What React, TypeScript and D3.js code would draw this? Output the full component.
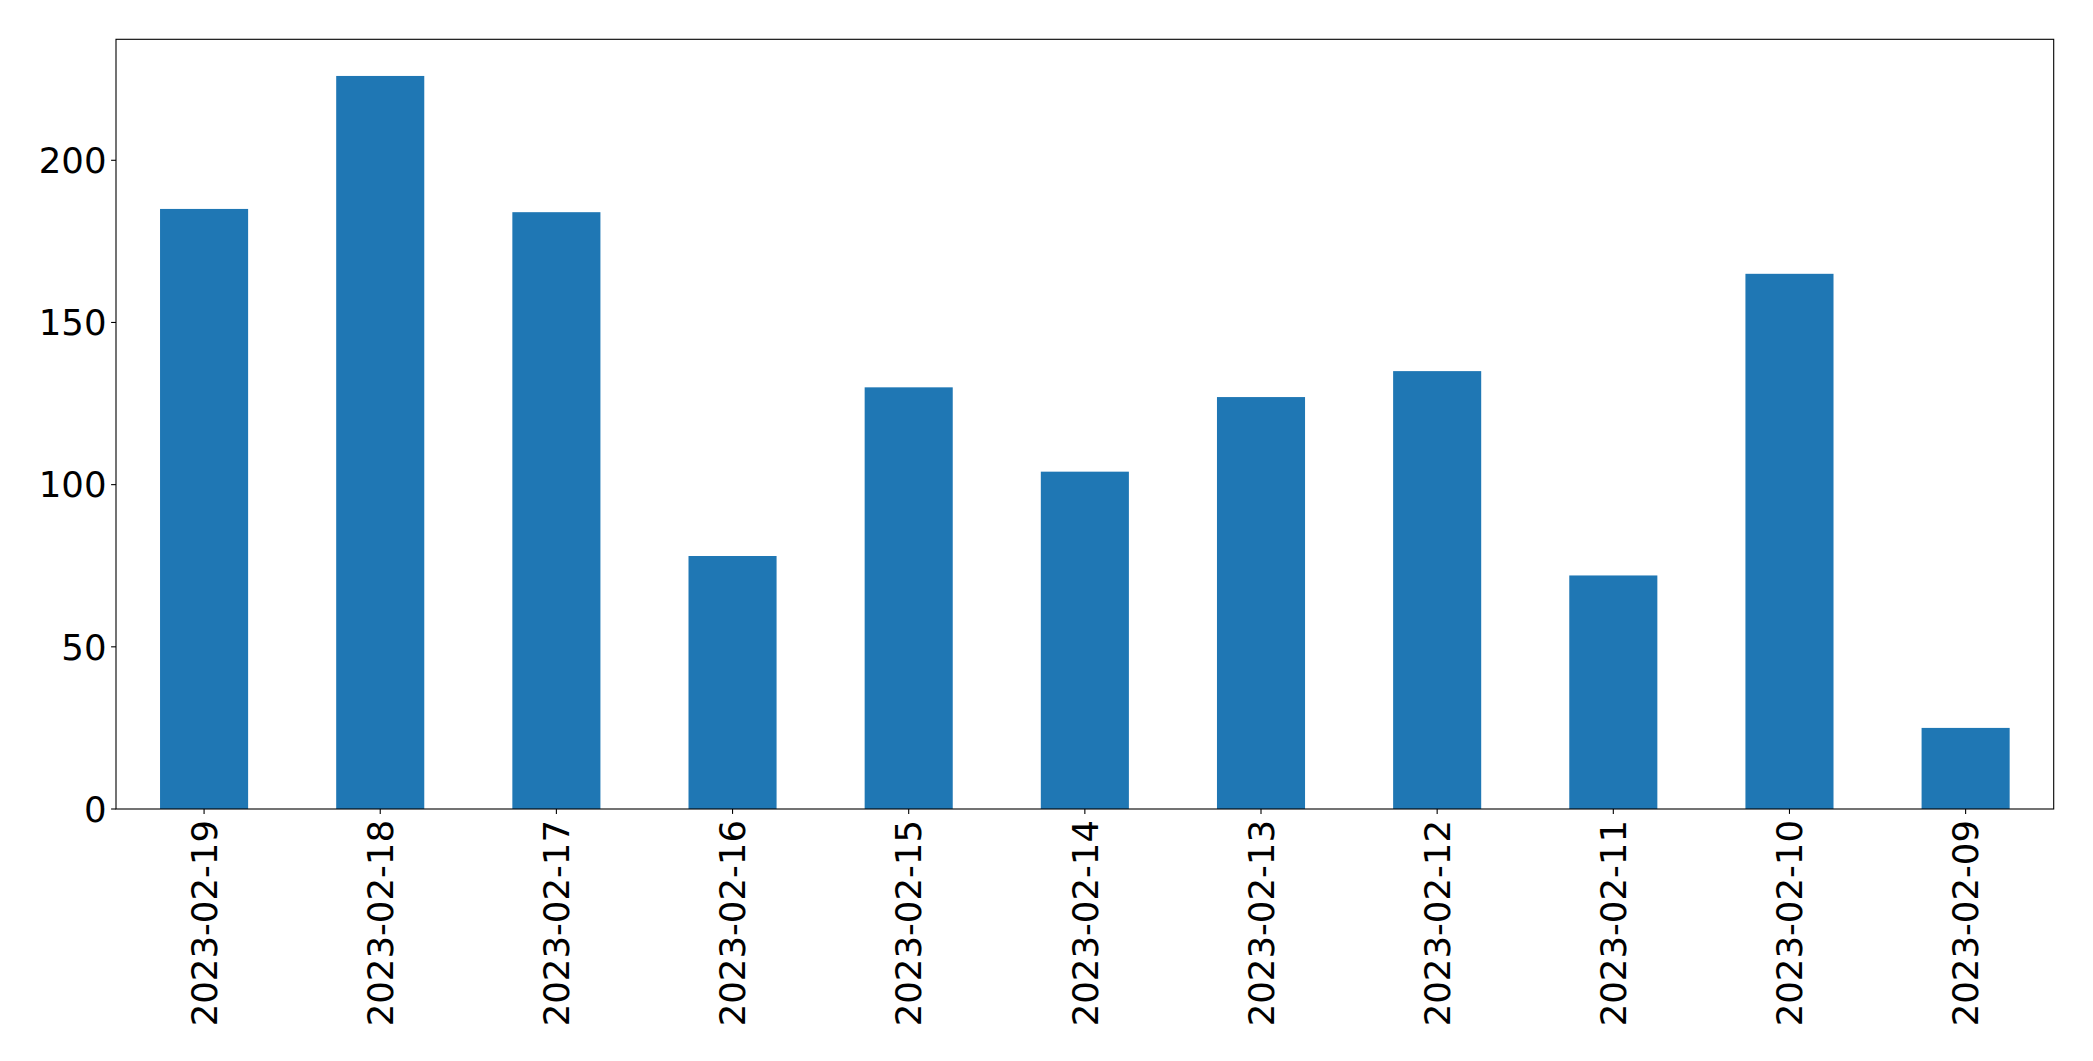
import React from "react";
import * as d3 from "d3";

const categories = ["2023-02-19", "2023-02-18", "2023-02-17", "2023-02-16", "2023-02-15", "2023-02-14", "2023-02-13", "2023-02-12", "2023-02-11", "2023-02-10", "2023-02-09"];
const values = [185, 226, 184, 78, 130, 104, 127, 135, 72, 165, 25];
const yTicks = [0, 50, 100, 150, 200];

const W = 2093;
const H = 1061;
const margin = { left: 116, right: 2053.7, top: 39.3, bottom: 809 };

export default function App() {
  const x = d3.scaleBand<string>().domain(categories).range([margin.left, margin.right]).paddingInner(0.5).paddingOuter(0.25);
  const yMax = d3.max(values)! * 1.05;
  const y = d3.scaleLinear().domain([0, yMax]).range([margin.bottom, margin.top]);
  const font = "'DejaVu Sans', sans-serif";
  const fs = 35.5;
  return (
    <svg width={W} height={H} style={{ position: "absolute", left: 0, top: 0, background: "#fff" }}>
      <rect x={0} y={0} width={W} height={H} fill="#fff" />
      {values.map((v, i) => (
        <rect key={i} x={x(categories[i])!} y={y(v)} width={x.bandwidth()} height={y(0) - y(v)} fill="#1f77b4" />
      ))}
      <rect x={margin.left} y={margin.top} width={margin.right - margin.left} height={margin.bottom - margin.top} fill="none" stroke="#000" strokeWidth={1.1} />
      {yTicks.map((t) => (
        <g key={t} transform={`translate(0,${y(t)})`}>
          <line x1={margin.left - 4.9} x2={margin.left} stroke="#000" strokeWidth={1.1} />
          <text x={margin.left - 9.5} dy="0.36em" textAnchor="end" fontFamily={font} fontSize={fs} fill="#000">{t}</text>
        </g>
      ))}
      {categories.map((c) => {
        const cx = x(c)! + x.bandwidth() / 2;
        return (
          <g key={c}>
            <line x1={cx} x2={cx} y1={margin.bottom} y2={margin.bottom + 4.9} stroke="#000" strokeWidth={1.1} />
            <text transform={`translate(${cx},${margin.bottom + 11}) rotate(-90)`} textAnchor="end" dy="0.36em" fontFamily={font} fontSize={fs} fill="#000">{c}</text>
          </g>
        );
      })}
    </svg>
  );
}
